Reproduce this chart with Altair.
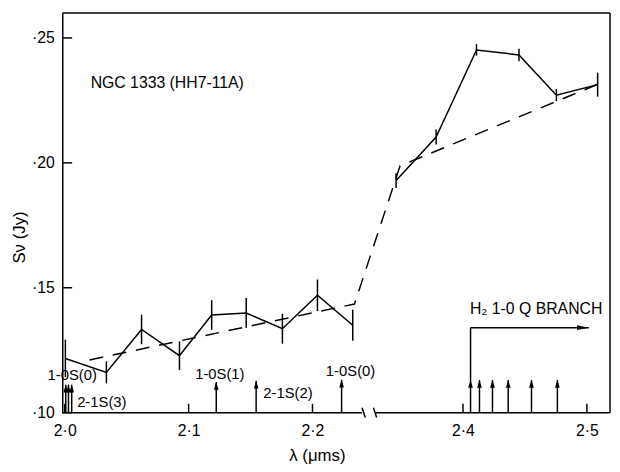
import altair as alt
import pandas as pd

# ---------------- data ----------------
# measured points (wavelength in micron, flux density in Jy, 1-sigma error)
lam_left = [2.0005, 2.0336, 2.062, 2.0926, 2.1186, 2.1465, 2.1757, 2.204, 2.2325]
flux_left = [0.1217, 0.1161, 0.1333, 0.1228, 0.1391, 0.1399, 0.1336, 0.1470, 0.1350]
err_left = [0.0075, 0.0044, 0.0059, 0.0057, 0.0059, 0.0060, 0.0060, 0.0063, 0.0062]
lam_right = [2.346, 2.3783, 2.4109, 2.4452, 2.4754, 2.5087]
flux_right = [0.1929, 0.2103, 0.2452, 0.2432, 0.2271, 0.2313]
err_right = [0.0030, 0.0030, 0.0023, 0.0025, 0.0024, 0.0048]

# dashed continuum
cont_lam = [2.020, 2.2339, 2.3492, 2.5135]
cont_flux = [0.1211, 0.1435, 0.1988, 0.2324]

# H2 line markers (arrows)
line_lam = [2.0008, 2.0030, 2.0056, 2.1223, 2.1545, 2.2235,
            2.4061, 2.4133, 2.4238, 2.4365, 2.4553, 2.4762]
line_top = [0.1112, 0.1112, 0.1112, 0.1123, 0.1128, 0.1132,
            0.1131, 0.1131, 0.1131, 0.1131, 0.1131, 0.1131]

# Q-branch bracket
q_start = 2.4061
q_end = 2.5016
q_level = 0.1340

# axis ticks
x_ticks = [2.0, 2.1, 2.2, 2.4, 2.5]
y_ticks = [0.10, 0.15, 0.20, 0.25]

# broken axis: wavelengths above BREAK_AT are shifted left by SHIFT
BREAK_AT = 2.3
SHIFT = 0.0785
x_domain = [1.998, 2.4402]
y_domain = [0.10, 0.26]
gap = [2.2400, 2.2506]

annotations = [
    {"t": "NGC 1333 (HH7-11A)", "lam": 2.0209, "f": 0.2321, "a": "left", "s": 16},
    {"t": "1-0S(0)", "lam": 2.0259, "f": 0.1151, "a": "right", "s": 15},
    {"t": "2-1S(3)", "lam": 2.0100, "f": 0.1043, "a": "left", "s": 15},
    {"t": "1-0S(1)", "lam": 2.1053, "f": 0.1155, "a": "left", "s": 15},
    {"t": "2-1S(2)", "lam": 2.1603, "f": 0.1079, "a": "left", "s": 15},
    {"t": "1-0S(0)", "lam": 2.2108, "f": 0.1165, "a": "left", "s": 15},
    {"t": "H₂ 1-0 Q BRANCH", "lam": 2.4056, "f": 0.1415, "a": "left", "s": 16},
]

W, H = 555, 405
FONT = "Liberation Sans"
LW = 1.5


def to_u(l):
    return l if l < BREAK_AT else l - SHIFT


xs = alt.Scale(domain=x_domain, nice=False, zero=False)
ys = alt.Scale(domain=y_domain, nice=False, zero=False)

xu_ticks = [to_u(v) for v in x_ticks]
label_expr_x = ("replace(format(datum.value < %g ? datum.value : datum.value + %g, '.1f'), '.', '·')"
                % (BREAK_AT, SHIFT))

X = lambda f: alt.X(f, type="quantitative", scale=xs,
                    axis=alt.Axis(values=xu_ticks, labelExpr=label_expr_x, domain=False,
                                  ticks=False, grid=False, labelPadding=10, labelFontSize=16,
                                  labelColor="black", labelFont=FONT, title="λ (μms)",
                                  titleFont=FONT, titleFontSize=17, titleFontWeight="normal",
                                  titleX=258, titleY=43, titleBaseline="middle",
                                  titleAlign="center"))
Y = lambda f: alt.Y(f, type="quantitative", scale=ys,
                    axis=alt.Axis(values=y_ticks,
                                  labelExpr="replace(format(datum.value, '.2f'), '0.', '·')",
                                  ticks=False, domain=True, domainColor="black",
                                  domainWidth=LW, grid=False, labelPadding=8, labelFontSize=16,
                                  labelColor="black", labelFont=FONT, title="Sν (Jy)",
                                  titleFont=FONT, titleFontSize=17, titleFontWeight="normal",
                                  titleAngle=270, titleX=-43, titleY=227,
                                  titleAlign="center", titleBaseline="middle"))

# data frames
pts = pd.DataFrame({
    "lam": lam_left + lam_right,
    "flux": flux_left + flux_right,
    "err": err_left + err_right,
    "seg": ["a"] * len(lam_left) + ["b"] * len(lam_right),
})
pts["u"] = pts["lam"].map(to_u)
pts["lo"] = pts["flux"] - pts["err"]
pts["hi"] = pts["flux"] + pts["err"]

cont = pd.DataFrame({"lam": cont_lam, "flux": cont_flux})
cont["u"] = cont["lam"].map(to_u)

lines = pd.DataFrame({"lam": line_lam, "top": line_top})
lines["u"] = lines["lam"].map(to_u)
lines["base"] = y_domain[0]

ann = pd.DataFrame(annotations)
ann["u"] = ann["lam"].map(to_u)

one = pd.DataFrame({"a": [0]})

# frame
top_rule = alt.Chart(one).mark_rule(color="black", strokeWidth=LW).encode(
    x=alt.value(0), x2=alt.value(W), y=alt.value(0))
right_rule = alt.Chart(one).mark_rule(color="black", strokeWidth=LW).encode(
    x=alt.value(W), y=alt.value(0), y2=alt.value(H))
bottom = pd.DataFrame({"x0": [x_domain[0], gap[1]], "x1": [gap[0], x_domain[1]]})
bottom_rule = alt.Chart(bottom).mark_rule(color="black", strokeWidth=LW).encode(
    x=X("x0"), x2="x1", y=alt.value(H))
slashes = pd.DataFrame({"x0": [gap[0], gap[1] - 0.0014], "x1": [gap[0] + 0.0026, gap[1] + 0.0012]})
slash_rule = alt.Chart(slashes).mark_rule(color="black", strokeWidth=LW).encode(
    x=X("x0"), x2="x1", y=alt.value(H - 5), y2=alt.value(H + 5))

# inward ticks
xt = pd.DataFrame({"u": xu_ticks})
xtick = alt.Chart(xt).mark_rule(color="black", strokeWidth=LW).encode(
    x=X("u"), y=alt.value(H), y2=alt.value(H - 9))
yt = pd.DataFrame({"v": y_ticks})
ytick = alt.Chart(yt).mark_rule(color="black", strokeWidth=LW).encode(
    y=Y("v"), x=alt.value(0), x2=alt.value(10))

# continuum
cont_line = alt.Chart(cont).mark_line(color="black", strokeWidth=LW, strokeDash=[14, 10]).encode(
    x=X("u"), y=Y("flux"), order="u")

# data line + error bars
data_line = alt.Chart(pts).mark_line(color="black", strokeWidth=LW).encode(
    x=X("u"), y=Y("flux"), detail="seg", order="u")
err_bars = alt.Chart(pts).mark_rule(color="black", strokeWidth=LW).encode(
    x=X("u"), y=Y("lo"), y2="hi")

# line arrows
shafts = alt.Chart(lines).mark_rule(color="black", strokeWidth=LW).encode(
    x=X("u"), y=Y("base"), y2="top")
heads = alt.Chart(lines).mark_point(shape="M0,0L0.3,1L-0.3,1Z", size=256, filled=True,
                                    color="black", opacity=1, strokeWidth=0).encode(
    x=X("u"), y=Y("top"))

# Q branch bracket
qb = pd.DataFrame({"u0": [to_u(q_start)], "u1": [to_u(q_end)],
                   "y0": [line_top[6]], "y1": [q_level]})
q_vert = alt.Chart(qb).mark_rule(color="black", strokeWidth=LW).encode(
    x=X("u0"), y=Y("y0"), y2="y1")
q_hor = alt.Chart(qb).mark_rule(color="black", strokeWidth=LW).encode(
    x=X("u0"), x2="u1", y=Y("y1"))
q_head = alt.Chart(qb).mark_point(shape="M0,0L-1,-0.2L-1,0.2Z", size=576, filled=True,
                                  color="black", opacity=1, strokeWidth=0).encode(
    x=X("u1"), y=Y("y1"))

# annotations
texts = []
for al in ["left", "right"]:
    sub = ann[ann["a"] == al]
    for size in sorted(sub["s"].unique()):
        s2 = sub[sub["s"] == size]
        texts.append(alt.Chart(s2).mark_text(align=al, baseline="middle", fontSize=int(size),
                                             font=FONT, color="black").encode(
            x=X("u"), y=Y("f"), text="t"))

chart = alt.layer(
    top_rule, right_rule, bottom_rule, slash_rule, xtick, ytick,
    cont_line, data_line, err_bars, shafts, heads, q_vert, q_hor, q_head, *texts
).properties(
    width=W, height=H,
    autosize=alt.AutoSizeParams(type="none"),
    padding={"left": 55, "top": 2, "right": 2, "bottom": 49},
    background="white",
).configure_view(stroke=None)

chart.save("out.html", embed_options={"renderer": "svg", "actions": False})
